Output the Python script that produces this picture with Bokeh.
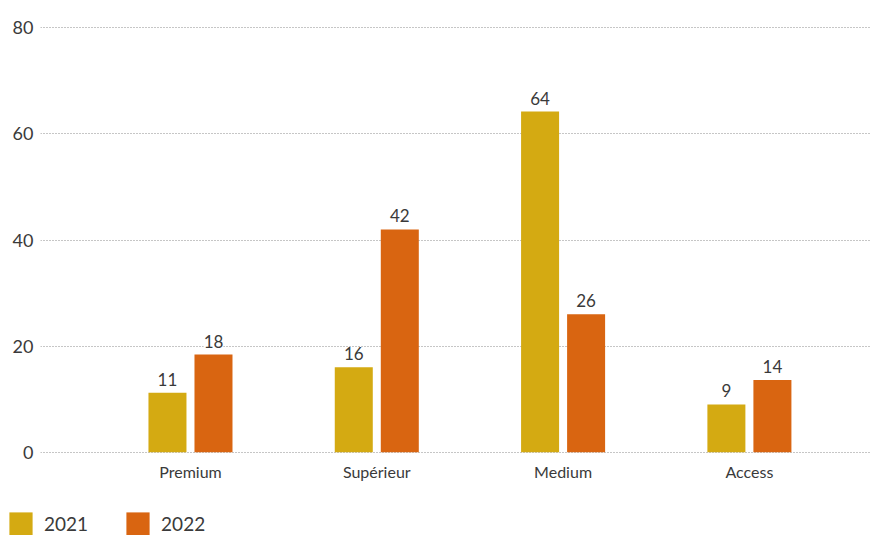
from bokeh.plotting import figure
from bokeh.models import (Range1d, FixedTicker, ColumnDataSource, LabelSet,
                          Legend, LegendItem)
from bokeh.layouts import column, row
from bokeh.core.properties import value
from bokeh.embed import file_html
from bokeh.resources import INLINE

categories = ["Premium", "Supérieur", "Medium", "Access"]
series_names = ["2021", "2022"]
values_2021 = [11.2, 16.0, 64.2, 9.0]
values_2022 = [18.4, 42.0, 26.0, 13.6]
y_ticks = [0, 20, 40, 60, 80]

colors = ["#D4AA12", "#D96511"]
FONT = "Lato"
TXT = "#3a3a3a"

p = figure(width=870, height=505, output_backend="svg", toolbar_location=None,
           x_range=Range1d(-0.805, 3.65), y_range=Range1d(-1, 81),
           min_border_left=40, min_border_right=0, min_border_top=22,
           min_border_bottom=48)
p.outline_line_color = None
p.background_fill_color = "white"
p.border_fill_color = "white"

bar_w = 0.204
offsets = [-0.1235, 0.1235]
for k, (name, vals) in enumerate(zip(series_names, [values_2021, values_2022])):
    xs = [i + offsets[k] for i in range(len(categories))]
    src = ColumnDataSource(dict(x=xs, top=vals,
                                lab=[str(int(round(v))) for v in vals]))
    p.vbar(x="x", top="top", bottom=0, width=bar_w, source=src,
           fill_color=colors[k], line_color=None)
    ls = LabelSet(x="x", y="top", text="lab", source=src, y_offset=7,
                  text_align="center", text_baseline="alphabetic",
                  text_font=value(FONT), text_font_size="17px", text_color=TXT,
                  background_fill_color="white")
    p.add_layout(ls)

# axes
p.xaxis.ticker = FixedTicker(ticks=list(range(len(categories))))
p.xaxis.major_label_overrides = {i: c for i, c in enumerate(categories)}
p.xaxis.axis_line_color = None
p.xaxis.major_tick_line_color = None
p.xaxis.minor_tick_line_color = None
p.xaxis.major_tick_out = 0
p.xaxis.major_tick_in = 0
p.xaxis.minor_tick_out = 0
p.xaxis.major_label_standoff = 4
p.xaxis.major_label_text_font = FONT
p.xaxis.major_label_text_font_size = "16px"
p.xaxis.major_label_text_color = TXT

p.yaxis.ticker = FixedTicker(ticks=y_ticks)
p.yaxis.axis_line_color = None
p.yaxis.major_tick_line_color = None
p.yaxis.minor_tick_line_color = None
p.yaxis.major_tick_out = 0
p.yaxis.major_tick_in = 0
p.yaxis.minor_tick_out = 0
p.yaxis.major_label_standoff = 7
p.yaxis.major_label_text_font = FONT
p.yaxis.major_label_text_font_size = "18px"
p.yaxis.major_label_text_color = TXT

p.xgrid.grid_line_color = None
p.ygrid.grid_line_color = "#8c8c8c"
p.ygrid.grid_line_dash = "1 2"
p.ygrid.grid_line_width = 1

# legend strip
pl = figure(width=870, height=30, output_backend="svg", toolbar_location=None,
            x_range=Range1d(0, 1), y_range=Range1d(0, 1),
            x_axis_location=None, y_axis_location=None,
            min_border=0, min_border_left=0, min_border_right=0,
            min_border_top=0, min_border_bottom=0)
pl.outline_line_color = None
pl.xgrid.visible = False
pl.ygrid.visible = False
leg_renderers = []
for k, name in enumerate(series_names):
    # proxy glyph with no drawable data, only used for the legend swatch
    r = pl.vbar(x=[float("nan")], top=[float("nan")], width=0.1,
                fill_color=colors[k], line_color=None)
    leg_renderers.append(r)
legend = Legend(items=[LegendItem(label=n, renderers=[r])
                       for n, r in zip(series_names, leg_renderers)],
                orientation="horizontal", location=(6, -3),
                glyph_width=29, glyph_height=29, label_standoff=9,
                spacing=35, padding=0, margin=0,
                label_text_font=FONT, label_text_font_size="19px",
                label_text_color=TXT, border_line_color=None,
                background_fill_alpha=0)
pl.add_layout(legend)

layout = column(p, row(pl), spacing=0)
open("out.html", "w").write(file_html(layout, INLINE))
